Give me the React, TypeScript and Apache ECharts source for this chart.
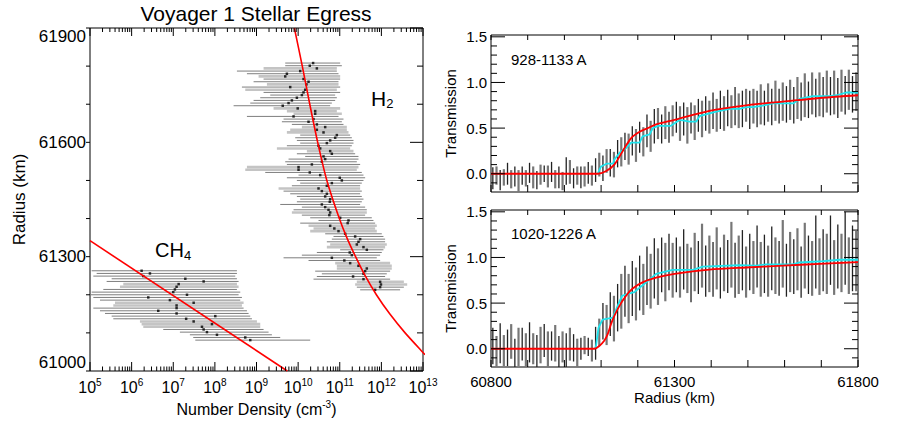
import { useEffect, useRef } from 'react';
import * as echarts from 'echarts';

const FONT = '"Liberation Sans", Arial, Helvetica, sans-serif';

// ---------- Left panel: number density profiles (values in log10 cm^-3) ----------
// [radius km, lower log10 n, upper log10 n, retrieved log10 n, light-shade flag]
const h2Bars: number[][] = [
  [61808, 9.69, 11.01, 10.36, 0], [61801, 9.69, 11.05, 10.28, 0], [61794, 9.17, 10.93, 10.45, 1],
  [61787, 8.53, 10.93, 10.05, 0], [61780, 8.77, 10.97, 9.73, 0], [61773, 9.05, 11.01, 9.69, 1],
  [61766, 9.17, 11.01, 10.13, 0], [61759, 8.93, 10.97, 10.25, 0], [61752, 9.25, 10.97, 10.2, 1],
  [61745, 8.65, 11.01, 9.81, 0], [61738, 8.73, 10.93, 10.17, 1], [61731, 9.17, 11.01, 10.13, 0],
  [61724, 9.33, 10.89, 10.09, 0], [61717, 9.09, 10.93, 9.97, 0], [61710, 8.93, 10.89, 9.85, 0],
  [61703, 8.85, 10.81, 9.77, 0], [61696, 8.45, 10.77, 9.63, 0], [61689, 9.41, 11.01, 9.99, 1],
  [61682, 9.73, 10.93, 10.41, 1], [61675, 9.89, 11.05, 10.41, 1], [61668, 8.77, 10.97, 9.89, 0],
  [61661, 9.65, 11.09, 10.37, 0], [61654, 9.61, 11.05, 10.25, 0], [61647, 9.85, 11.09, 10.45, 0],
  [61640, 10.09, 11.17, 10.65, 1], [61633, 9.81, 11.17, 10.45, 1], [61626, 9.73, 11.21, 10.61, 1],
  [61619, 10.05, 11.25, 10.93, 0], [61612, 9.93, 11.29, 10.89, 0], [61605, 9.97, 11.33, 10.77, 0],
  [61598, 10.05, 11.33, 10.69, 0], [61591, 9.73, 11.29, 10.49, 0], [61584, 9.49, 11.25, 10.53, 1],
  [61577, 10.21, 11.33, 10.77, 1], [61570, 9.97, 11.37, 10.81, 0], [61563, 10.17, 11.45, 10.61, 0],
  [61556, 9.77, 11.45, 10.65, 0], [61549, 9.69, 11.41, 10.57, 0], [61542, 9.73, 11.49, 10.33, 0],
  [61535, 8.77, 11.45, 10.01, 1], [61528, 8.73, 11.41, 10.01, 1], [61521, 9.21, 11.53, 10.28, 0],
  [61514, 10.01, 11.57, 10.53, 0], [61507, 9.73, 11.61, 11.0, 0], [61500, 9.97, 11.57, 11.05, 0],
  [61493, 10.05, 11.53, 10.81, 0], [61486, 9.85, 11.49, 10.69, 0], [61479, 9.53, 11.49, 10.49, 1],
  [61472, 9.65, 11.53, 10.57, 0], [61465, 9.81, 11.49, 10.69, 0], [61458, 9.97, 11.53, 10.65, 0],
  [61451, 10.05, 11.57, 10.77, 0], [61444, 9.97, 11.53, 10.76, 0], [61437, 9.57, 11.49, 10.57, 0],
  [61430, 10.09, 11.61, 10.65, 0], [61423, 9.89, 11.65, 10.73, 0], [61416, 9.85, 11.65, 10.77, 1],
  [61409, 10.09, 11.61, 10.75, 0], [61402, 10.29, 11.77, 11.01, 0], [61395, 10.49, 11.81, 11.21, 0],
  [61388, 10.05, 11.85, 11.19, 0], [61381, 10.25, 11.89, 10.77, 1], [61374, 10.37, 11.85, 10.87, 1],
  [61367, 10.29, 11.89, 10.97, 1], [61360, 10.65, 12.01, 11.13, 0], [61353, 10.85, 12.05, 11.37, 0],
  [61346, 10.81, 12.09, 11.49, 0], [61339, 10.69, 12.09, 11.45, 0], [61332, 10.77, 12.13, 11.41, 1],
  [61325, 10.69, 12.09, 11.57, 1], [61318, 11.01, 12.05, 11.65, 0], [61311, 10.45, 12.01, 11.24, 0],
  [61304, 10.09, 11.97, 11.29, 0], [61297, 9.65, 11.89, 10.81, 0], [61290, 10.25, 11.97, 11.11, 0],
  [61283, 10.89, 12.21, 11.25, 1], [61276, 10.93, 12.25, 11.45, 1], [61269, 10.93, 12.25, 11.65, 1],
  [61262, 10.41, 12.21, 11.61, 0], [61255, 10.57, 12.13, 11.57, 0], [61248, 10.45, 12.09, 11.32, 0],
  [61241, 10.37, 12.21, 11.57, 0], [61234, 11.41, 12.54, 11.97, 1], [61227, 11.37, 12.62, 11.99, 1],
  [61220, 11.41, 12.54, 11.97, 0], [61213, 11.49, 12.45, 11.85, 0],
];

const ch4Bars: number[][] = [
  [61263, 5.04, 8.53, 6.24, 0], [61256, 5.16, 8.53, 6.44, 0], [61249, 5.08, 8.49, 6.28, 0],
  [61242, 5.52, 8.53, 7.29, 0], [61235, 5.4, 8.57, 7.73, 0], [61228, 5.8, 8.53, 7.13, 1],
  [61221, 5.72, 8.57, 7.08, 1], [61214, 5.32, 8.53, 7.04, 0], [61207, 5.04, 8.61, 7.0, 0],
  [61200, 5.0, 8.57, 7.33, 0], [61193, 5.08, 8.65, 6.4, 0], [61186, 5.24, 8.61, 6.92, 0],
  [61179, 5.6, 8.69, 7.49, 1], [61172, 5.56, 8.65, 7.08, 1], [61165, 5.08, 8.69, 7.08, 0],
  [61158, 5.24, 8.77, 6.64, 0], [61151, 5.36, 8.81, 7.08, 0], [61144, 5.52, 8.85, 8.01, 0],
  [61137, 5.56, 8.89, 7.31, 0], [61130, 6.2, 9.01, 7.49, 1], [61123, 6.24, 9.09, 7.93, 1],
  [61116, 6.28, 9.09, 7.69, 1], [61109, 6.76, 9.17, 7.73, 0], [61102, 7.16, 9.29, 7.81, 0],
  [61095, 7.4, 9.37, 8.05, 0], [61088, 7.48, 9.57, 8.73, 0], [61081, 7.53, 10.29, 8.85, 0],
];

// fitted profiles: [log10 n, radius]
const h2Fit: number[][] = [
  [9.91, 61900], [10.1, 61800], [10.28, 61700], [10.47, 61600], [10.69, 61500], [10.99, 61400],
  [11.17, 61350], [11.38, 61300], [11.61, 61250], [11.88, 61200], [12.2, 61150], [12.57, 61100],
  [12.97, 61052], [13.05, 61043],
];
const ch4Fit: number[][] = [[5.0, 61342], [9.74, 61000]];

const densityDecades = [5, 6, 7, 8, 9, 10, 11, 12, 13];

// ---------- Right panels: transmission ----------
const transRadius = [
  60805, 60815, 60825, 60835, 60845, 60855, 60865, 60875, 60885, 60895,
  60905, 60915, 60925, 60935, 60945, 60955, 60965, 60975, 60985, 60995,
  61005, 61015, 61025, 61035, 61045, 61055, 61065, 61075, 61085, 61095,
  61105, 61115, 61125, 61135, 61145, 61155, 61165, 61175, 61185, 61195,
  61205, 61215, 61225, 61235, 61245, 61255, 61265, 61275, 61285, 61295,
  61305, 61315, 61325, 61335, 61345, 61355, 61365, 61375, 61385, 61395,
  61405, 61415, 61425, 61435, 61445, 61455, 61465, 61475, 61485, 61495,
  61505, 61515, 61525, 61535, 61545, 61555, 61565, 61575, 61585, 61595,
  61605, 61615, 61625, 61635, 61645, 61655, 61665, 61675, 61685, 61695,
  61705, 61715, 61725, 61735, 61745, 61755, 61765, 61775, 61785, 61795,
];

const topCenter = [
  -0.05, -0.02, -0.07, -0.04, 0.0, -0.06, -0.03, -0.08, -0.02, -0.05,
  0.01, -0.04, -0.07, -0.01, 0.0, -0.03, 0.02, -0.06, -0.04, -0.08,
  0.03, 0.02, -0.05, -0.02, -0.04, -0.03, 0.01, -0.02, 0.04, 0.1,
  0.06, 0.14, 0.12, 0.1, 0.22, 0.24, 0.3, 0.27, 0.36, 0.31,
  0.4, 0.35, 0.47, 0.41, 0.52, 0.55, 0.49, 0.56, 0.51, 0.58,
  0.62, 0.55, 0.6, 0.53, 0.61, 0.56, 0.64, 0.6, 0.66, 0.62,
  0.69, 0.64, 0.7, 0.66, 0.72, 0.68, 0.74, 0.69, 0.71, 0.75,
  0.7, 0.74, 0.71, 0.76, 0.72, 0.78, 0.73, 0.8, 0.74, 0.79,
  0.76, 0.81, 0.75, 0.83, 0.79, 0.86, 0.81, 0.88, 0.83, 0.87,
  0.84, 0.9, 0.85, 0.89, 0.83, 0.91, 0.86, 0.92, 0.87, 0.9,
];
const topError = [
  0.12, 0.1, 0.11, 0.09, 0.12, 0.1, 0.11, 0.12, 0.1, 0.09,
  0.11, 0.12, 0.1, 0.11, 0.09, 0.12, 0.11, 0.1, 0.12, 0.1,
  0.15, 0.13, 0.11, 0.1, 0.12, 0.11, 0.12, 0.11, 0.13, 0.13,
  0.14, 0.13, 0.15, 0.14, 0.15, 0.16, 0.15, 0.17, 0.16, 0.18,
  0.17, 0.16, 0.18, 0.17, 0.19, 0.17, 0.16, 0.18, 0.17, 0.17,
  0.17, 0.19, 0.18, 0.2, 0.17, 0.19, 0.18, 0.2, 0.19, 0.18,
  0.2, 0.18, 0.21, 0.19, 0.2, 0.18, 0.21, 0.19, 0.2, 0.18,
  0.21, 0.19, 0.2, 0.22, 0.19, 0.21, 0.2, 0.22, 0.19, 0.21,
  0.2, 0.22, 0.2, 0.23, 0.21, 0.24, 0.2, 0.23, 0.21, 0.24,
  0.22, 0.23, 0.21, 0.24, 0.22, 0.23, 0.21, 0.22, 0.2, 0.21,
];
const bottomCenter = [
  0.03, -0.04, 0.06, -0.02, 0.01, 0.08, -0.05, 0.02, 0.05, -0.03,
  0.07, 0.0, -0.04, 0.04, 0.09, -0.02, 0.03, 0.06, -0.05, 0.02,
  -0.03, 0.05, 0.01, -0.06, 0.0, 0.04, 0.02, -0.02, 0.06, 0.18,
  0.3, 0.26, 0.38, 0.33, 0.45, 0.52, 0.63, 0.55, 0.66, 0.6,
  0.72, 0.65, 0.8, 0.74, 0.88, 0.79, 0.92, 0.84, 0.95, 0.86,
  0.92, 0.84, 0.98, 0.88, 0.81, 0.95, 0.89, 1.02, 0.85, 0.93,
  0.87, 0.99, 0.83, 0.94, 0.9, 1.03, 0.86, 0.92, 0.97, 0.84,
  0.95, 0.89, 1.01, 0.87, 0.93, 0.85, 0.99, 0.91, 0.88, 1.04,
  0.86, 0.95, 0.9, 0.98, 0.84, 1.02, 0.92, 0.88, 1.06, 0.9,
  0.97, 0.93, 1.08, 0.89, 1.01, 0.94, 1.1, 0.91, 0.99, 0.96,
];
const bottomError = [
  0.2, 0.18, 0.22, 0.17, 0.2, 0.19, 0.16, 0.21, 0.18, 0.2,
  0.22, 0.17, 0.19, 0.2, 0.18, 0.21, 0.16, 0.2, 0.19, 0.17,
  0.2, 0.18, 0.15, 0.17, 0.12, 0.1, 0.1, 0.12, 0.18, 0.15,
  0.2, 0.22, 0.24, 0.25, 0.26, 0.3, 0.28, 0.27, 0.3, 0.29,
  0.3, 0.28, 0.32, 0.3, 0.33, 0.31, 0.3, 0.32, 0.31, 0.3,
  0.3, 0.28, 0.33, 0.27, 0.3, 0.32, 0.29, 0.35, 0.28, 0.31,
  0.3, 0.34, 0.28, 0.31, 0.29, 0.36, 0.3, 0.32, 0.33, 0.28,
  0.31, 0.29, 0.34, 0.3, 0.32, 0.28, 0.35, 0.31, 0.3, 0.37,
  0.29, 0.33, 0.3, 0.34, 0.28, 0.36, 0.32, 0.3, 0.4, 0.31,
  0.34, 0.33, 0.38, 0.3, 0.35, 0.32, 0.4, 0.31, 0.36, 0.33,
];

// [radius, transmission]
const topModel: number[][] = [
  [60800, 0], [61091, 0], [61114, 0.03], [61136, 0.1], [61159, 0.25], [61182, 0.39],
  [61205, 0.46], [61227, 0.5], [61250, 0.54], [61300, 0.59], [61395, 0.69], [61495, 0.75],
  [61595, 0.79], [61695, 0.83], [61800, 0.86],
];
const topCyan: number[][] = [
  [61091, 0], [61094, 0.03], [61100, 0.08], [61115, 0.11], [61133, 0.11], [61136, 0.155],
  [61155, 0.25], [61168, 0.28], [61182, 0.34], [61205, 0.34], [61213, 0.41], [61232, 0.43],
  [61241, 0.5], [61255, 0.525], [61290, 0.525], [61314, 0.59], [61341, 0.57], [61359, 0.57],
  [61368, 0.63], [61414, 0.68], [61450, 0.71], [61477, 0.71], [61495, 0.73], [61514, 0.73],
  [61532, 0.74], [61568, 0.77], [61623, 0.77], [61641, 0.82], [61677, 0.85], [61723, 0.85],
  [61742, 0.86], [61768, 0.89], [61800, 0.89],
];
const bottomModel: number[][] = [
  [60800, 0], [61082, 0], [61095, 0.03], [61109, 0.09], [61118, 0.16], [61127, 0.27],
  [61136, 0.36], [61150, 0.47], [61168, 0.58], [61186, 0.66], [61214, 0.73], [61250, 0.78],
  [61300, 0.82], [61395, 0.866], [61495, 0.89], [61595, 0.91], [61695, 0.93], [61800, 0.95],
];
const bottomCyan: number[][] = [
  [61083, 0], [61086, 0.03], [61093, 0.23], [61104, 0.32], [61132, 0.34], [61145, 0.47],
  [61157, 0.58], [61173, 0.6], [61191, 0.62], [61205, 0.67], [61218, 0.71], [61250, 0.82],
  [61295, 0.865], [61350, 0.865], [61377, 0.9], [61477, 0.915], [61523, 0.91], [61550, 0.925],
  [61623, 0.925], [61641, 0.945], [61705, 0.96], [61750, 0.975], [61800, 0.975],
];

// ---------- helpers ----------
const noAxisDeco = {
  axisLine: { show: false },
  axisTick: { show: false },
  splitLine: { show: false },
  minorTick: { show: false },
};

const hBarRender = (_p: any, api: any) => {
  const r = api.value(0);
  const light = api.value(4);
  const a = api.coord([api.value(1), r]);
  const b = api.coord([api.value(2), r]);
  return {
    type: 'line',
    shape: { x1: a[0], y1: a[1], x2: b[0], y2: b[1] },
    style: { stroke: light ? '#c4c4c4' : '#7e7e7e', lineWidth: light ? 2.6 : 1 },
  };
};

const vBarRender = (p: any, api: any) => {
  const r = api.value(0);
  const c = api.value(1);
  const e = api.value(2);
  const a = api.coord([r, c - e]);
  const b = api.coord([r, c + e]);
  const dark = p.dataIndex % 2 === 0;
  return {
    type: 'line',
    shape: { x1: a[0], y1: a[1], x2: b[0], y2: b[1] },
    style: { stroke: dark ? '#222222' : '#777777', lineWidth: dark ? 1.3 : 2.2 },
  };
};

const seg = (x1: number, y1: number, x2: number, y2: number) => ({
  type: 'line',
  shape: { x1, y1, x2, y2 },
  style: { stroke: '#000', lineWidth: 1 },
});

const leftTicks = (_p: any, api: any) => {
  const ch: any[] = [];
  const [xl, yb] = api.coord([5, 61000]);
  const [xr, yt] = api.coord([13, 61900]);
  densityDecades.forEach((d) => {
    const x = api.coord([d, 61000])[0];
    ch.push(seg(x, yb, x, yb - 9), seg(x, yt, x, yt + 8));
    if (d < 13) {
      for (let k = 2; k <= 9; k++) {
        const xm = api.coord([d + Math.log10(k), 61000])[0];
        ch.push(seg(xm, yb, xm, yb - 4.5), seg(xm, yt, xm, yt + 4));
      }
    }
  });
  for (let r = 61000; r <= 61900; r += 100) {
    const y = api.coord([5, r])[1];
    const major = (r - 61000) % 300 === 0;
    ch.push(seg(xr, y, xr - (major ? 13 : 6), y), seg(xl, y, xl - 4, y));
  }
  return { type: 'group', children: ch };
};

const rightTicks = (_p: any, api: any) => {
  const ch: any[] = [];
  const [xl, yb] = api.coord([60800, -0.2]);
  const [xr, yt] = api.coord([61800, 1.52]);
  for (let r = 60800; r <= 61800; r += 100) {
    const x = api.coord([r, 0])[0];
    ch.push(seg(x, yb, x, yb - 7), seg(x, yt, x, yt + 5));
  }
  for (let t = -1; t <= 15; t++) {
    const y = api.coord([60800, t / 10])[1];
    const len = t % 5 === 0 ? 14 : 6;
    ch.push(seg(xl, y, xl + len, y), seg(xr, y, xr - len, y));
  }
  return { type: 'group', children: ch };
};

const transLabel = (v: number) => {
  const t = Math.round(v * 10);
  if (Math.abs(v * 10 - t) > 1e-6 || t % 5 !== 0 || t < 0) return '';
  return (t / 10).toFixed(1);
};

const superRich = {
  b: { fontSize: 16, lineHeight: 20, fontFamily: FONT, color: '#000' },
  s: { fontSize: 10, lineHeight: 10, verticalAlign: 'top', fontFamily: FONT, color: '#000' },
};

function buildOption() {
  const transAxisX = (gi: number, labels: boolean) => ({
    gridIndex: gi,
    type: 'value',
    min: 60800,
    max: 61800,
    interval: 100,
    ...noAxisDeco,
    axisLabel: labels
      ? {
          show: true,
          fontSize: 15,
          fontFamily: FONT,
          color: '#000',
          margin: 7,
          formatter: (v: number) => ((v - 60800) % 500 === 0 ? String(v) : ''),
        }
      : { show: false },
    ...(labels
      ? {
          name: 'Radius (km)',
          nameLocation: 'middle',
          nameGap: 23,
          nameTextStyle: { fontSize: 15, fontFamily: FONT, color: '#000' },
        }
      : {}),
  });
  const transAxisY = (gi: number) => ({
    gridIndex: gi,
    type: 'value',
    min: -0.2,
    max: 1.52,
    interval: 0.1,
    ...noAxisDeco,
    axisLabel: { fontSize: 15, fontFamily: FONT, color: '#000', margin: 4, formatter: transLabel },
    name: 'Transmission',
    nameLocation: 'middle',
    nameGap: 33,
    nameTextStyle: { fontSize: 15, fontFamily: FONT, color: '#000' },
  });

  return {
    animation: false,
    backgroundColor: '#ffffff',
    textStyle: { fontFamily: FONT, color: '#000' },
    grid: [
      { left: 90, top: 28, width: 333, height: 343, show: true, borderColor: '#000', borderWidth: 1, backgroundColor: 'transparent' },
      { left: 491, top: 35, width: 367, height: 157, show: true, borderColor: '#000', borderWidth: 1, backgroundColor: 'transparent' },
      { left: 491, top: 210, width: 367, height: 157, show: true, borderColor: '#000', borderWidth: 1, backgroundColor: 'transparent' },
    ],
    xAxis: [
      {
        gridIndex: 0,
        type: 'value',
        min: 5,
        max: 13,
        interval: 1,
        ...noAxisDeco,
        axisLabel: { margin: 6, formatter: (v: number) => `{b|10}{s|${v}}`, rich: superRich },
        name: 'Number Density (cm{s|-3})',
        nameLocation: 'middle',
        nameGap: 24,
        nameTextStyle: { fontSize: 16, lineHeight: 20, fontFamily: FONT, color: '#000', rich: { s: superRich.s } },
      },
      transAxisX(1, false),
      transAxisX(2, true),
    ],
    yAxis: [
      {
        gridIndex: 0,
        type: 'value',
        min: 61000,
        max: 61900,
        interval: 100,
        ...noAxisDeco,
        axisLabel: {
          fontSize: 17,
          fontFamily: FONT,
          color: '#000',
          margin: 4,
          formatter: (v: number) => ((v - 61000) % 300 === 0 ? String(v) : ''),
          verticalAlignMinLabel: 'bottom',
          verticalAlignMaxLabel: 'top',
        },
        name: 'Radius (km)',
        nameLocation: 'middle',
        nameGap: 62,
        nameTextStyle: { fontSize: 17, fontFamily: FONT, color: '#000' },
      },
      transAxisY(1),
      transAxisY(2),
    ],
    graphic: [
      {
        type: 'text',
        x: 256,
        y: 13,
        style: { text: 'Voyager 1 Stellar Egress', font: `21px ${FONT}`, fill: '#000', align: 'center', verticalAlign: 'middle' },
      },
      {
        type: 'text',
        x: 371,
        y: 98,
        style: {
          text: '{a|H}{b|2}',
          verticalAlign: 'middle',
          align: 'left',
          rich: {
            a: { fontSize: 21, lineHeight: 24, fontFamily: FONT, fill: '#000' },
            b: { fontSize: 13, lineHeight: 13, verticalAlign: 'bottom', fontFamily: FONT, fill: '#000' },
          },
        },
      },
      {
        type: 'text',
        x: 155,
        y: 250,
        style: {
          text: '{a|CH}{b|4}',
          verticalAlign: 'middle',
          align: 'left',
          rich: {
            a: { fontSize: 20, lineHeight: 24, fontFamily: FONT, fill: '#000' },
            b: { fontSize: 13, lineHeight: 13, verticalAlign: 'bottom', fontFamily: FONT, fill: '#000' },
          },
        },
      },
      {
        type: 'text',
        x: 511,
        y: 59,
        style: { text: '928-1133 A', font: `15px ${FONT}`, fill: '#000', align: 'left', verticalAlign: 'middle' },
      },
      {
        type: 'text',
        x: 511,
        y: 233,
        style: { text: '1020-1226 A', font: `15px ${FONT}`, fill: '#000', align: 'left', verticalAlign: 'middle' },
      },
    ],
    series: [
      // left panel
      { type: 'custom', name: 'CH4 bars', xAxisIndex: 0, yAxisIndex: 0, clip: true, silent: true, encode: { x: [1, 2], y: 0 }, data: ch4Bars, renderItem: hBarRender },
      { type: 'custom', name: 'H2 bars', xAxisIndex: 0, yAxisIndex: 0, clip: true, silent: true, encode: { x: [1, 2], y: 0 }, data: h2Bars, renderItem: hBarRender },
      { type: 'scatter', name: 'CH4', xAxisIndex: 0, yAxisIndex: 0, symbol: 'rect', symbolSize: 2.5, itemStyle: { color: '#000' }, silent: true, data: ch4Bars.map((b) => [b[3], b[0]]) },
      { type: 'scatter', name: 'H2', xAxisIndex: 0, yAxisIndex: 0, symbol: 'rect', symbolSize: 2.5, itemStyle: { color: '#000' }, silent: true, data: h2Bars.map((b) => [b[3], b[0]]) },
      { type: 'line', name: 'H2 fit', xAxisIndex: 0, yAxisIndex: 0, data: h2Fit, showSymbol: false, smooth: 0.2, clip: true, silent: true, lineStyle: { color: '#ff0000', width: 1.6 } },
      { type: 'line', name: 'CH4 fit', xAxisIndex: 0, yAxisIndex: 0, data: ch4Fit, showSymbol: false, clip: true, silent: true, lineStyle: { color: '#ff0000', width: 1.6 } },
      { type: 'custom', name: 'left ticks', xAxisIndex: 0, yAxisIndex: 0, clip: false, silent: true, z: 5, data: [[9, 61450]], renderItem: leftTicks },
      // top right panel
      { type: 'custom', name: 'top bars', xAxisIndex: 1, yAxisIndex: 1, clip: true, silent: true, encode: { x: 0, y: 1 }, data: transRadius.map((r, i) => [r, topCenter[i], topError[i]]), renderItem: vBarRender },
      { type: 'line', name: 'top data', xAxisIndex: 1, yAxisIndex: 1, data: topCyan, showSymbol: false, silent: true, lineStyle: { color: '#1de4ee', width: 1.8 } },
      { type: 'line', name: 'top model', xAxisIndex: 1, yAxisIndex: 1, data: topModel, showSymbol: false, smooth: 0.3, silent: true, lineStyle: { color: '#ff0000', width: 1.8 } },
      { type: 'custom', name: 'top ticks', xAxisIndex: 1, yAxisIndex: 1, clip: false, silent: true, z: 5, data: [[61300, 0.5]], renderItem: rightTicks },
      // bottom right panel
      { type: 'custom', name: 'bottom bars', xAxisIndex: 2, yAxisIndex: 2, clip: true, silent: true, encode: { x: 0, y: 1 }, data: transRadius.map((r, i) => [r, bottomCenter[i], bottomError[i]]), renderItem: vBarRender },
      { type: 'line', name: 'bottom data', xAxisIndex: 2, yAxisIndex: 2, data: bottomCyan, showSymbol: false, silent: true, lineStyle: { color: '#1de4ee', width: 1.8 } },
      { type: 'line', name: 'bottom model', xAxisIndex: 2, yAxisIndex: 2, data: bottomModel, showSymbol: false, smooth: 0.3, silent: true, lineStyle: { color: '#ff0000', width: 1.8 } },
      { type: 'custom', name: 'bottom ticks', xAxisIndex: 2, yAxisIndex: 2, clip: false, silent: true, z: 5, data: [[61300, 0.5]], renderItem: rightTicks },
    ],
  };
}

export default function App() {
  const ref = useRef<HTMLDivElement>(null);
  useEffect(() => {
    if (!ref.current) return;
    const chart = echarts.init(ref.current, null, { renderer: 'svg' });
    chart.setOption(buildOption() as any);
    return () => chart.dispose();
  }, []);
  return (
    <div
      ref={ref}
      style={{ position: 'fixed', left: 0, top: 0, width: 900, height: 430, background: '#fff' }}
    />
  );
}
